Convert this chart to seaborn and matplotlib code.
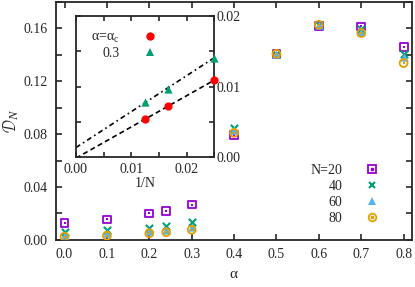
import numpy as np
import seaborn as sns
import matplotlib.pyplot as plt
from matplotlib.lines import Line2D
from matplotlib.ticker import MultipleLocator
from matplotlib.legend_handler import HandlerTuple

# main panel: D_N vs alpha for several N
alpha = [0.0, 0.1, 0.2, 0.24, 0.3, 0.4, 0.5, 0.6, 0.7, 0.8]
d_n20 = [0.0128, 0.0155, 0.0200, 0.0220, 0.0268, 0.0795, 0.1408, 0.1618, 0.1615, 0.1458]
d_n40 = [0.0060, 0.0075, 0.0092, 0.0105, 0.0137, 0.0845, 0.1408, 0.1625, 0.1595, 0.1408]
d_n60 = [0.0040, 0.0050, 0.0068, 0.0078, 0.0100, 0.0830, 0.1408, 0.1628, 0.1575, 0.1385]
d_n80 = [0.0025, 0.0032, 0.0050, 0.0058, 0.0077, 0.0810, 0.1408, 0.1628, 0.1565, 0.1338]
n_labels = ['N=20', '40', '60', '80']

# inset: D_N vs 1/N
inv_n = [1 / 80, 1 / 60, 1 / 40]
d_crit = [0.0054, 0.0072, 0.0109]
d_03 = [0.0078, 0.0097, 0.0141]
inset_labels = [r'$\mathregular{\alpha}$=$\mathregular{\alpha_c}$', '0.3']

sns.set_theme(style='ticks')
plt.rcParams['font.family'] = ['Liberation Serif', 'DejaVu Serif']
plt.rcParams['mathtext.fontset'] = 'custom'
plt.rcParams['mathtext.rm'] = 'Liberation Serif'
plt.rcParams['mathtext.it'] = 'Liberation Serif:italic'
plt.rcParams['font.size'] = 10

purple, green, blue, orange = '#9400d3', '#009e73', '#56b4e9', '#e69f00'

fig = plt.figure(figsize=(4.15, 2.87), dpi=100)
ax = fig.add_axes([0.135, 0.164, 0.858, 0.829])

series = [
    (d_n20, purple, 's', True),
    (d_n40, green, 'x', False),
    (d_n60, blue, '^', False),
    (d_n80, orange, 'o', True),
]
handles = []
for vals, col, mk, hollow in series:
    if hollow:
        sns.scatterplot(x=alpha, y=vals, ax=ax, marker=mk, s=32, facecolor='none',
                        edgecolor=col, linewidth=1.3, zorder=3)
        sns.scatterplot(x=alpha, y=vals, ax=ax, marker='s', s=3, color=col,
                        linewidth=0, zorder=3)
        h = (Line2D([], [], ls='none', marker=mk, ms=5.5, mfc='none', mec=col, mew=1.3),
             Line2D([], [], ls='none', marker='s', ms=1.5, color=col))
    elif mk == 'x':
        sns.scatterplot(x=alpha, y=vals, ax=ax, marker=mk, s=28, color=col,
                        linewidth=1.5, zorder=3)
        h = Line2D([], [], ls='none', marker=mk, ms=5, color=col, mew=1.5)
    else:
        sns.scatterplot(x=alpha, y=vals, ax=ax, marker=mk, s=36, color=col,
                        linewidth=0, zorder=3)
        h = Line2D([], [], ls='none', marker=mk, ms=6, color=col, mew=0)
    handles.append(h)

ax.legend(handles, n_labels, loc='lower right', bbox_to_anchor=(0.925, 0.035),
          markerfirst=False, frameon=False, handlelength=1.0, handletextpad=1.6,
          labelspacing=0.2, borderpad=0, fontsize=10,
          handler_map={tuple: HandlerTuple(ndivide=1, pad=0)})

ax.set_xlim(-0.02, 0.82)
ax.set_ylim(0, 0.18)
ax.xaxis.set_major_locator(MultipleLocator(0.1))
ax.yaxis.set_major_locator(MultipleLocator(0.04))
ax.yaxis.set_minor_locator(MultipleLocator(0.02))
ax.xaxis.set_major_formatter(plt.FormatStrFormatter('%.1f'))
ax.yaxis.set_major_formatter(plt.FormatStrFormatter('%.2f'))
ax.tick_params(which='both', direction='in', top=True, right=True, width=1.2)
ax.tick_params(which='major', length=4, labelsize=10, pad=6)
ax.tick_params(which='minor', length=4)
ax.set_xlabel(r'$\mathregular{\alpha}$', fontsize=11, labelpad=5)
ax.set_ylabel(r'$\mathcal{D}_N$', fontsize=13, labelpad=2)
for sp in ax.spines.values():
    sp.set_linewidth(1.3)

# inset
ins = fig.add_axes([0.183, 0.452, 0.333, 0.493])
fit_x = np.array([0.0, 0.025])
p1 = np.polyfit(inv_n, d_crit, 1)
p2 = np.polyfit(inv_n, d_03, 1)
sns.lineplot(x=fit_x, y=np.polyval(p1, fit_x), ax=ins, color='black',
             linestyle=(0, (3, 2)), linewidth=1.2)
sns.lineplot(x=fit_x, y=np.polyval(p2, fit_x), ax=ins, color='black',
             linestyle=(0, (3, 2, 1, 2)), linewidth=1.2)
sns.scatterplot(x=inv_n, y=d_crit, ax=ins, marker='o', s=35, color='red',
                linewidth=0, zorder=3, clip_on=False)
sns.scatterplot(x=inv_n, y=d_03, ax=ins, marker='^', s=35, color=green,
                linewidth=0, zorder=3, clip_on=False)
ih = [Line2D([], [], ls='none', marker='o', ms=6, color='red', mew=0),
      Line2D([], [], ls='none', marker='^', ms=6, color=green, mew=0)]
ins.legend(ih, inset_labels, loc='upper left', bbox_to_anchor=(0.03, 0.97),
           markerfirst=False, frameon=False, handlelength=1.0, handletextpad=1.7,
           labelspacing=0.1, borderpad=0.3, fontsize=10)
ins.set_xlim(0, 0.025)
ins.set_ylim(0, 0.02)
ins.xaxis.set_major_locator(MultipleLocator(0.01))
ins.xaxis.set_minor_locator(MultipleLocator(0.005))
ins.yaxis.set_major_locator(MultipleLocator(0.01))
ins.yaxis.set_minor_locator(MultipleLocator(0.005))
ins.xaxis.set_major_formatter(plt.FormatStrFormatter('%.2f'))
ins.yaxis.set_major_formatter(plt.FormatStrFormatter('%.2f'))
ins.yaxis.tick_right()
ins.tick_params(which='both', direction='in', top=True, left=True, right=True,
                width=1.2, length=3.5, labelsize=10, pad=2)
ins.tick_params(axis='x', pad=4)
ins.set_xlabel('1/N', fontsize=10, labelpad=1)
for sp in ins.spines.values():
    sp.set_linewidth(1.3)

fig.savefig('out.png', dpi=100)
